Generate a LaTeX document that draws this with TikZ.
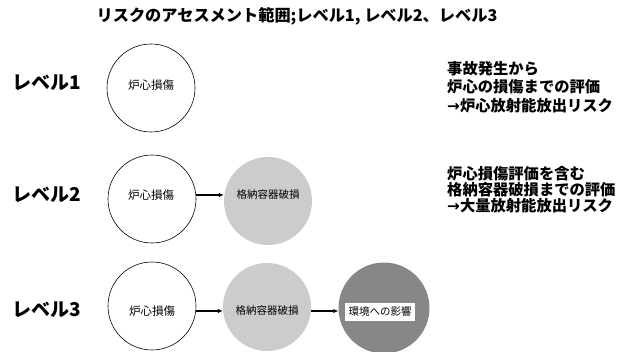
\documentclass[tikz,border=0pt]{standalone}
\usepackage{fontspec}
\setmainfont{Noto Sans CJK JP}
\newfontfamily\arrowfont{DejaVu Sans}
\usetikzlibrary{arrows.meta}
\newcommand{\rarr}{{\arrowfont\bfseries →}}
\tikzset{
  every node/.style={inner sep=0pt},
  title/.style={font=\bfseries\fontsize{16.2}{18}\selectfont},
  lvl/.style={font=\bfseries\fontsize{19}{22}\selectfont, anchor=west},
  desca/.style={font=\bfseries\fontsize{15.3}{18}\selectfont, anchor=west},
  descb/.style={font=\bfseries\fontsize{15.3}{18}\selectfont, anchor=west},
  core/.style={circle, draw=black, line width=0.6pt, minimum size=88pt},
  cont/.style={circle, fill=black!20, minimum size=88pt},
  envc/.style={circle, fill=black!47, minimum size=91pt},
  coretxt/.style={font=\fontsize{11.5}{13}\selectfont},
  conttxt/.style={font=\fontsize{10.5}{12}\selectfont},
  envbox/.style={fill=white, minimum width=70pt, minimum height=18pt, font=\fontsize{10.5}{12}\selectfont},
  flow/.style={line width=1.3pt, -{Latex[length=5pt,width=4.5pt]}}
}
\begin{document}
\begin{tikzpicture}[x=1pt,y=-1pt]
\useasboundingbox (0,0) rectangle (617,352);
\node[title] (t) at (297,16) {リスクのアセスメント範囲;レベル1, レベル2、レベル3};
% level 1
\node[lvl] (l1) at (12,83) {レベル1};
\node[core] (c1) at (151,88) {};
\node[coretxt] (c1t) at (151,85) {炉心損傷};
\node[desca] (d1a) at (447,69) {事故発生から};
\node[desca] (d1b) at (447,87) {炉心の損傷までの評価};
\node[desca] (d1c) at (447,106) {\rarr 炉心放射能放出リスク};
% level 2
\node[lvl] (l2) at (12,195) {レベル2};
\node[core] (c2) at (152,199) {};
\node[coretxt] (c2t) at (151,195) {炉心損傷};
\node[cont] (g2) at (268,201) {};
\node[conttxt] (g2t) at (268,195) {格納容器破損};
\draw[flow] (c2.east |- c2t) -- (g2.west |- c2t);
\node[descb] (d2a) at (447,174) {炉心損傷評価を含む};
\node[descb] (d2b) at (447,190) {格納容器破損までの評価};
\node[descb] (d2c) at (447,206) {\rarr 大量放射能放出リスク};
% level 3
\node[lvl] (l3) at (12,310) {レベル3};
\node[core] (c3) at (152,306) {};
\node[coretxt] (c3t) at (152,311) {炉心損傷};
\node[cont] (g3) at (267,307) {};
\node[conttxt] (g3t) at (267,311) {格納容器破損};
\node[envc] (e3) at (384,308) {};
\node[envbox] (e3t) at (380,312) {環境への影響};
\draw[flow] (c3.east |- c3t) -- (g3.west |- c3t);
\draw[flow] (g3.east |- g3t) -- (e3.west |- g3t);
\end{tikzpicture}
\end{document}
